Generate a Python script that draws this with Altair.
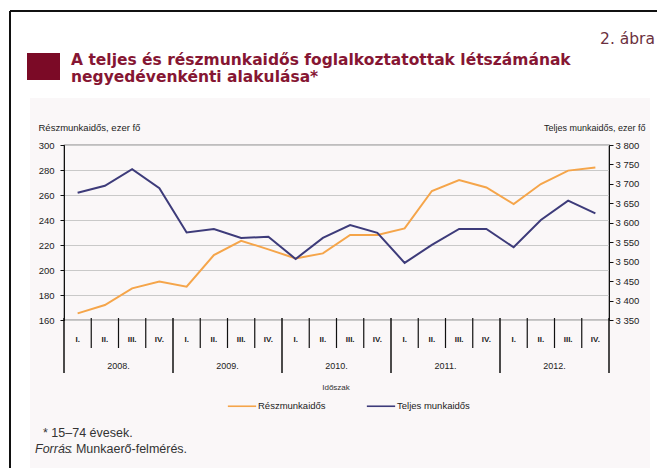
import altair as alt
import pandas as pd
import numpy as np

# ---- data -------------------------------------------------------------
quarters = ["I.", "II.", "III.", "IV."] * 5
years = ["2008.", "2009.", "2010.", "2011.", "2012."]
reszmunkaidos = [165.3, 172.0, 185.3, 190.7, 186.7, 212.0, 223.4, 216.5, 209.3, 213.3,
                 228.0, 228.0, 233.3, 263.2, 272.0, 266.0, 252.8, 268.8, 279.5, 282.0]
teljes = [3677, 3695, 3738, 3689, 3575, 3584, 3561, 3564, 3507, 3561,
          3594, 3574, 3497, 3543, 3584, 3584, 3537, 3607, 3657, 3624]
left_ticks = [160, 180, 200, 220, 240, 260, 280, 300]
right_ticks = [3350, 3400, 3450, 3500, 3550, 3600, 3650, 3700, 3750, 3800]
series_names = ["Részmunkaidős", "Teljes munkaidős"]
series_colors = ["#f5a54a", "#3d3b7a"]

title_lines = ["A teljes és részmunkaidős foglalkoztatottak létszámának",
               "negyedévenkénti alakulása*"]
figure_no = "2. ábra"
left_title = "Részmunkaidős, ezer fő"
right_title = "Teljes munkaidős, ezer fő"
x_title = "Időszak"
note_line = "* 15–74 évesek."
source_label = "Forrás"
source_text = ": Munkaerő-felmérés."

# ---- tables -----------------------------------------------------------
n = len(quarters)
pos = np.arange(n) + 0.5
df_part = pd.DataFrame({"pos": pos, "value": reszmunkaidos, "series": series_names[0]})
df_full = pd.DataFrame({"pos": pos, "value": teljes, "series": series_names[1]})
df_q = pd.DataFrame({"pos": pos, "label": quarters})
df_years = pd.DataFrame({"pos": np.arange(len(years)) * 4 + 2, "label": years})
bounds = np.arange(n + 1)
df_sep_q = pd.DataFrame({"pos": [b for b in bounds if b % 4 != 0]})
df_sep_y = pd.DataFrame({"pos": [b for b in bounds if b % 4 == 0]})
one = pd.DataFrame({"a": [0]})

W, H = 545, 175
FONT = "Liberation Sans"
WIDE = "DejaVu Sans"
xscale = alt.Scale(domain=[0, n], nice=False, zero=False)
color_scale = alt.Scale(domain=series_names, range=series_colors)
X = alt.X("pos:Q", scale=xscale, axis=None)


def box(x, x2, y, y2, color):
    return alt.Chart(one).mark_rect(color=color).encode(
        x=alt.value(x), x2=alt.value(x2), y=alt.value(y), y2=alt.value(y2))


def rule(x, x2, y, y2, color, w):
    return alt.Chart(one).mark_rule(color=color, strokeWidth=w).encode(
        x=alt.value(x), x2=alt.value(x2), y=alt.value(y), y2=alt.value(y2))


def text(t, x, y, size, color, align="left", weight="normal", style="normal",
         baseline="alphabetic", font=FONT):
    return alt.Chart(one).mark_text(
        text=t, font=font, fontSize=size, color=color, align=align,
        fontWeight=weight, fontStyle=style, baseline=baseline).encode(
        x=alt.value(x), y=alt.value(y))


# decorations (page coords minus plot origin 64,145)
margins = [
    box(-56, 593, -137, -47, "white"),
    box(-56, -34, -47, 323, "white"),
    box(586, 593, -47, 323, "white"),
]
frame = [
    rule(-54, 593, -134, -134, "#111", 2),
    rule(-54, -54, -134, 323, "#111", 2),
]
square = box(-37, -4, -92, -65, "#7b0a26")
titles = [
    text(title_lines[0], 7, -80, 15.5, "#861633", weight="bold", font=WIDE),
    text(title_lines[1], 7, -63, 15.5, "#861633", weight="bold", font=WIDE),
    text(figure_no, 591, -101, 15.5, "#6b3040", align="right", font=WIDE),
    text(x_title, 272, 243, 8, "#333", align="center", baseline="middle"),
    text(note_line, -21, 292, 12.5, "#333"),
    text(source_label, -29, 308, 12.5, "#333", style="italic"),
    text(source_text, 5, 308, 12.5, "#333"),
]

sep_q = alt.Chart(df_sep_q).mark_rule(color="#111", strokeWidth=1.2).encode(
    x=X, y=alt.value(173), y2=alt.value(203))
sep_y = alt.Chart(df_sep_y).mark_rule(color="#111", strokeWidth=1.5).encode(
    x=X, y=alt.value(173), y2=alt.value(228))
q_labels = alt.Chart(df_q).mark_text(font=FONT, fontSize=8, fontWeight="bold", color="#222",
                                     baseline="middle").encode(
    x=X, y=alt.value(195), text="label:N")
y_labels = alt.Chart(df_years).mark_text(font=FONT, fontSize=9, color="#222",
                                         baseline="middle").encode(
    x=X, y=alt.value(221), text="label:N")

legend = alt.Legend(orient="none", legendX=163, legendY=246, direction="horizontal",
                    title=None, symbolType="stroke", symbolSize=800, symbolStrokeWidth=1.6,
                    labelFont=FONT, labelFontSize=9.5, labelColor="#222", labelOffset=1,
                    columnPadding=37)

left_line = alt.Chart(df_part).mark_line(strokeWidth=2).encode(
    x=X,
    y=alt.Y("value:Q", scale=alt.Scale(domain=[160, 300], nice=False, zero=False),
            axis=alt.Axis(orient="left", values=left_ticks, grid=True, gridColor="#c9c9c9",
                          gridWidth=1, domainColor="#111", tickColor="#111", tickSize=4,
                          labelPadding=6, labelFont=FONT, labelFontSize=9.5, labelColor="#222",
                          title=left_title, titleAngle=0, titleAlign="left",
                          titleBaseline="middle", titleX=-26, titleY=-18, titleFont=FONT,
                          titleFontSize=9.5, titleFontWeight="normal", titleColor="#222")),
    color=alt.Color("series:N", scale=color_scale, legend=legend),
)
right_line = alt.Chart(df_full).mark_line(strokeWidth=2).encode(
    x=X,
    y=alt.Y("value:Q", scale=alt.Scale(domain=[3350, 3800], nice=False, zero=False),
            axis=alt.Axis(orient="right", values=right_ticks, grid=False,
                          labelExpr="replace(format(datum.value, ','), ',', ' ')",
                          domainColor="#111", tickColor="#111", tickSize=4,
                          labelPadding=2, labelFont=FONT, labelFontSize=9.5, labelColor="#222",
                          title=right_title, titleAngle=0, titleAlign="right",
                          titleBaseline="middle", titleX=36, titleY=-18, titleFont=FONT,
                          titleFontSize=9, titleFontWeight="normal", titleColor="#222")),
    color=alt.Color("series:N", scale=color_scale, legend=legend),
)

chart = alt.layer(
    *margins, *frame, square, *titles, sep_q, sep_y, q_labels, y_labels,
    left_line, right_line
).resolve_scale(y="independent").properties(
    width=W, height=H,
    autosize=alt.AutoSizeParams(type="none"),
    padding={"left": 56, "top": 137, "right": 48, "bottom": 148},
    background="#faf7f8",
).configure_view(stroke="#111", strokeWidth=1.2)

chart.save("out.html", embed_options={"renderer": "svg", "actions": False})
